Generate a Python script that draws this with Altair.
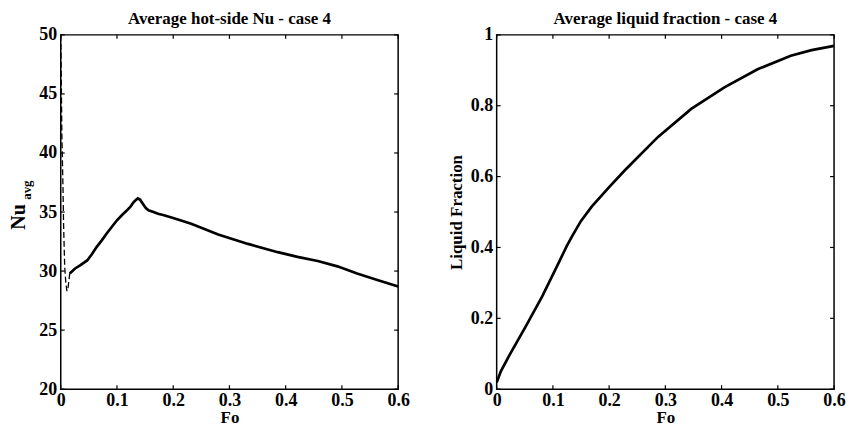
import altair as alt
import pandas as pd

# ---- data ----
# Nu (dashed initial transient)
nu_dash_fo = [0.0, 0.001, 0.002, 0.004, 0.005, 0.007, 0.009, 0.011, 0.013, 0.016]
nu_dash_val = [50.0, 46.0, 41.5, 37.0, 34.0, 30.4, 29.0, 28.3, 28.6, 29.8]

# Nu (solid)
nu_fo = [0.016, 0.025, 0.035, 0.047, 0.055, 0.064, 0.073, 0.082, 0.091, 0.100, 0.109,
         0.117, 0.124, 0.129, 0.133, 0.137, 0.141, 0.146, 0.151, 0.156, 0.165, 0.173,
         0.182, 0.200, 0.232, 0.280, 0.333, 0.386, 0.421, 0.457, 0.492, 0.527, 0.563, 0.600]
nu_val = [29.8, 30.2, 30.5, 30.9, 31.4, 32.05, 32.6, 33.2, 33.75, 34.3, 34.75,
          35.1, 35.45, 35.8, 36.0, 36.15, 36.05, 35.7, 35.35, 35.15, 35.0, 34.85,
          34.75, 34.5, 34.0, 33.1, 32.3, 31.6, 31.2, 30.85, 30.4, 29.8, 29.25, 28.7]

# Liquid fraction
lf_fo = [0.0, 0.0076, 0.022, 0.052, 0.081, 0.110, 0.125, 0.134, 0.150, 0.169, 0.200,
         0.228, 0.287, 0.346, 0.405, 0.464, 0.523, 0.560, 0.600]
lf_val = [0.019, 0.051, 0.094, 0.178, 0.262, 0.356, 0.405, 0.431, 0.475, 0.515, 0.570,
          0.618, 0.712, 0.791, 0.852, 0.903, 0.941, 0.957, 0.969]

x_ticks = [0, 0.1, 0.2, 0.3, 0.4, 0.5, 0.6]
nu_ticks = [20, 25, 30, 35, 40, 45, 50]
lf_ticks = [0, 0.2, 0.4, 0.6, 0.8, 1]

W, H = 339, 356
FONT = "Liberation Serif"
TL = 4  # inward tick length

nu_dash = pd.DataFrame({"Fo": nu_dash_fo, "Nu": nu_dash_val})
nu_df = pd.DataFrame({"Fo": nu_fo, "Nu": nu_val})
lf_df = pd.DataFrame({"Fo": lf_fo, "LF": lf_val})
xt = pd.DataFrame({"t": x_ticks})
nut = pd.DataFrame({"t": nu_ticks})
lft = pd.DataFrame({"t": lf_ticks})

x_axis = alt.Axis(values=x_ticks, format="~g", title="Fo", grid=False, ticks=False,
                  domain=False, labelPadding=2, titlePadding=0, labelFlush=False)


def inward_ticks(xscale, yscale, yticks_df):
    xs = alt.X("t:Q", scale=xscale)
    ys = alt.Y("t:Q", scale=yscale)
    r = alt.Chart(xt).mark_rule(color="black", strokeWidth=1.2)
    bottom = r.encode(x=xs, y=alt.value(H), y2=alt.value(H - TL))
    top = r.encode(x=xs, y=alt.value(0), y2=alt.value(TL))
    r2 = alt.Chart(yticks_df).mark_rule(color="black", strokeWidth=1.2)
    lft_ = r2.encode(y=ys, x=alt.value(0), x2=alt.value(TL))
    rgt_ = r2.encode(y=ys, x=alt.value(W - TL), x2=alt.value(W))
    return [bottom, top, lft_, rgt_]


xs_nu = alt.Scale(domain=[0, 0.6], nice=False, zero=False)
ys_nu = alt.Scale(domain=[20, 50], nice=False, zero=False)

nu_axis_y = alt.Axis(values=nu_ticks, title=None, grid=False, ticks=False, domain=False,
                     labelPadding=4, labelFlush=False)

nu_solid = alt.Chart(nu_df).mark_line(color="black", strokeWidth=2.7, clip=True).encode(
    x=alt.X("Fo:Q", scale=xs_nu, axis=x_axis),
    y=alt.Y("Nu:Q", scale=ys_nu, axis=nu_axis_y),
)
nu_dashed = alt.Chart(nu_dash).mark_line(color="black", strokeWidth=1.3,
                                         strokeDash=[6, 3], clip=True).encode(
    x=alt.X("Fo:Q", scale=xs_nu),
    y=alt.Y("Nu:Q", scale=ys_nu),
)
nu_lab = alt.Chart(pd.DataFrame({"s": ["Nu"]})).mark_text(
    font=FONT, fontWeight="bold", fontSize=20, angle=270, align="center", baseline="middle"
).encode(text="s:N", x=alt.value(-42), y=alt.value(183))
avg_lab = alt.Chart(pd.DataFrame({"s": ["avg"]})).mark_text(
    font=FONT, fontWeight="bold", fontSize=13, angle=270, align="center", baseline="middle"
).encode(text="s:N", x=alt.value(-34), y=alt.value(156))

left_chart = alt.layer(nu_solid, nu_dashed, *inward_ticks(xs_nu, ys_nu, nut),
                       nu_lab, avg_lab).properties(
    width=W, height=H,
    title=alt.TitleParams("Average hot-side Nu - case 4", font=FONT, fontSize=17,
                          fontWeight="bold", color="black", offset=-2),
)

xs_lf = alt.Scale(domain=[0, 0.6], nice=False, zero=False)
ys_lf = alt.Scale(domain=[0, 1], nice=False, zero=False)
lf_axis_y = alt.Axis(values=lf_ticks, format="~g", title="Liquid Fraction", grid=False,
                     ticks=False, domain=False, labelPadding=4, titlePadding=5,
                     labelFlush=False)

lf_line = alt.Chart(lf_df).mark_line(color="black", strokeWidth=2.7, clip=True).encode(
    x=alt.X("Fo:Q", scale=xs_lf, axis=x_axis),
    y=alt.Y("LF:Q", scale=ys_lf, axis=lf_axis_y),
)
right_chart = alt.layer(lf_line, *inward_ticks(xs_lf, ys_lf, lft)).properties(
    width=W, height=H,
    title=alt.TitleParams("Average liquid fraction - case 4", font=FONT, fontSize=17,
                          fontWeight="bold", color="black", offset=-2),
)

chart = alt.hconcat(left_chart, right_chart, spacing=36).properties(
    padding={"left": 0, "top": 0, "right": 0, "bottom": 0}
).configure_view(
    stroke="black", strokeWidth=1.5
).configure_axis(
    labelFont=FONT, labelFontSize=18, labelFontWeight="bold", labelColor="black",
    titleFont=FONT, titleFontSize=17, titleFontWeight="bold", titleColor="black",
)

chart.save("out.html", embed_options={"renderer": "svg", "actions": False})
